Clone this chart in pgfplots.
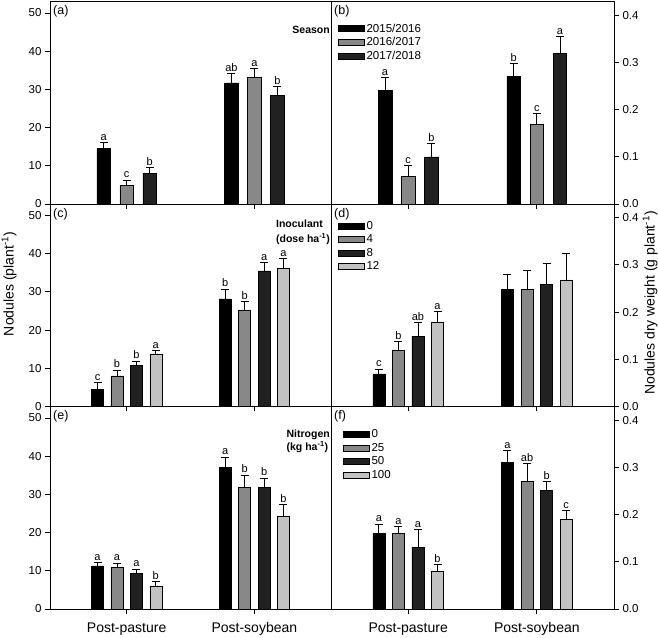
\documentclass[border=0pt]{standalone}
\usepackage{pgfplots}
\usepackage{pgfplotstable}
\pgfplotsset{compat=1.18}
\usepackage{fontspec}
\setmainfont{Liberation Sans}

\definecolor{cA}{HTML}{000000}
\definecolor{cB}{HTML}{888888}
\definecolor{cC}{HTML}{212121}
\definecolor{cD}{HTML}{C2C2C2}

% (a) nodules, season
\pgfplotstableread{
grp y1 e1 y2 e2 y3 e3 L1 L2 L3
0 14.5 1.5 4.9 1.3 8.0 1.5 a c b
1 31.7 2.4 33.1 2.4 28.4 2.3 ab a b
}\tabA
% (b) dry weight, season
\pgfplotstableread{
grp y1 e1 y2 e2 y3 e3 L1 L2 L3
0 0.240 0.028 0.059 0.022 0.100 0.028 a c b
1 0.270 0.028 0.169 0.022 0.319 0.036 b c a
}\tabB
% (c) nodules, inoculant
\pgfplotstableread{
grp y1 e1 y2 e2 y3 e3 y4 e4 L1 L2 L3 L4
0 4.4 1.9 8.0 1.5 10.7 1.2 13.8 0.9 c b b a
1 28.2 2.5 25.3 2.1 35.5 2.1 36.1 2.6 b b a a
}\tabC
% (d) dry weight, inoculant
\pgfplotstableread{
grp y1 e1 y2 e2 y3 e3 y4 e4 L1 L2 L3 L4
0 0.069 0.010 0.119 0.019 0.149 0.029 0.179 0.022 c b ab a
1 0.248 0.031 0.248 0.040 0.258 0.045 0.268 0.056 {} {} {} {}
}\tabD
% (e) nodules, nitrogen
\pgfplotstableread{
grp y1 e1 y2 e2 y3 e3 y4 e4 L1 L2 L3 L4
0 11.3 0.9 10.8 1.2 9.3 1.1 5.9 1.3 a a a b
1 37.0 2.8 31.9 3.1 31.8 2.5 24.2 3.1 a b b b
}\tabE
% (f) dry weight, nitrogen
\pgfplotstableread{
grp y1 e1 y2 e2 y3 e3 y4 e4 L1 L2 L3 L4
0 0.161 0.019 0.161 0.014 0.131 0.037 0.080 0.014 a a a b
1 0.310 0.025 0.271 0.037 0.251 0.019 0.190 0.018 a ab b c
}\tabF

\pgfplotsset{
  legbox/.style={legend image code/.code={\draw[##1] (0pt,-3pt) rectangle (26pt,3pt);}},
  panel/.style={scale only axis, height=202.5pt, anchor=south west,
    xmin=-0.6, xmax=1.6, xtick={0,1}, xticklabels={}, xtick pos=bottom,
    tick align=outside, major tick length=5pt,
    axis line style={line width=0.9pt},
    every tick/.style={black, line width=0.9pt},
    ymin=0, clip=false,
    /pgf/number format/assume math mode=true,
    yticklabel style={font=\fontsize{11.5}{13}\selectfont},
    xticklabel style={font=\fontsize{14}{16}\selectfont, yshift=-5pt},
    legbox, legend cell align=left,
    legend style={draw=none, fill=none, at={(rel axis cs:0,1)}, anchor=north west,
      font=\fontsize{11.5}{13}\selectfont, row sep=0pt}},
  leftp/.style={panel, width=281pt, ymax=53, ytick={0,10,20,30,40,50}, ytick pos=left},
  rightp/.style={panel, width=283pt, ymax=0.429, ytick={0,0.1,0.2,0.3,0.4},
    ytick pos=right, yticklabel pos=right,
    yticklabel style={/pgf/number format/.cd, fixed, fixed zerofill, precision=1}},
}

\newcommand{\ser}[4]{%
\addplot[forget plot, ybar, bar shift=#3, fill=#4, draw=black, line width=0.5pt]
  table[x=grp, y=y#2] {#1};
\addplot[forget plot, draw=none, mark=none,
  error bars/.cd, y dir=plus, y explicit,
  error bar style={line width=0.8pt, black},
  error mark options={rotate=90, black, line width=0.8pt, mark size=4pt}]
  table[x expr=\thisrow{grp}+(#3), y=y#2, y error=e#2] {#1};
\addplot[forget plot, draw=none, mark=none, nodes near coords, point meta=explicit symbolic,
  nodes near coords align={above},
  every node near coord/.append style={font=\fontsize{11}{12}\selectfont, inner sep=1pt, yshift=1pt, black}]
  table[x expr=\thisrow{grp}+(#3), y expr=\thisrow{y#2}+\thisrow{e#2}, meta=L#2] {#1};
}
\newcommand{\tag}[1]{\node[anchor=north west, inner sep=0pt, xshift=3pt, yshift=-4pt, font=\fontsize{12.5}{14}\selectfont] at (rel axis cs:0,1) {#1};}

\begin{document}
\begin{tikzpicture}
\useasboundingbox (0,0) rectangle (658pt,637pt);

% (a)
\begin{axis}[leftp, at={(50pt,433pt)}, bar width=0.105]
\ser{\tabA}{1}{-0.18}{cA}
\ser{\tabA}{2}{0}{cB}
\ser{\tabA}{3}{0.18}{cC}
\tag{(a)}
\node[anchor=north east, inner sep=0pt, xshift=-1pt, yshift=-24pt, font=\fontsize{10.5}{12}\selectfont\bfseries] at (rel axis cs:1,1) {Season};
\end{axis}

% (b)
\begin{axis}[rightp, at={(331pt,433pt)}, bar width=0.105,
  legend style={xshift=4pt, yshift=-18pt}]
\ser{\tabB}{1}{-0.18}{cA}
\ser{\tabB}{2}{0}{cB}
\ser{\tabB}{3}{0.18}{cC}
\addlegendimage{fill=cA, draw=black}
\addlegendentry{2015/2016}
\addlegendimage{fill=cB, draw=black}
\addlegendentry{2016/2017}
\addlegendimage{fill=cC, draw=black}
\addlegendentry{2017/2018}
\tag{(b)}
\end{axis}

% (c)
\begin{axis}[leftp, at={(50pt,230.5pt)}, bar width=0.094]
\ser{\tabC}{1}{-0.228}{cA}
\ser{\tabC}{2}{-0.076}{cB}
\ser{\tabC}{3}{0.076}{cC}
\ser{\tabC}{4}{0.228}{cD}
\tag{(c)}
\node[anchor=north east, align=left, inner sep=0pt, xshift=-1pt, yshift=-16pt, font=\fontsize{10.5}{15}\selectfont\bfseries] at (rel axis cs:1,1) {Inoculant\\(dose ha\textsuperscript{-1})};
\end{axis}

% (d)
\begin{axis}[rightp, at={(331pt,230.5pt)}, bar width=0.094,
  legend style={xshift=4pt, yshift=-13pt}]
\ser{\tabD}{1}{-0.228}{cA}
\ser{\tabD}{2}{-0.076}{cB}
\ser{\tabD}{3}{0.076}{cC}
\ser{\tabD}{4}{0.228}{cD}
\addlegendimage{fill=cA, draw=black}
\addlegendentry{0}
\addlegendimage{fill=cB, draw=black}
\addlegendentry{4}
\addlegendimage{fill=cC, draw=black}
\addlegendentry{8}
\addlegendimage{fill=cD, draw=black}
\addlegendentry{12}
\tag{(d)}
\end{axis}

% (e)
\begin{axis}[leftp, at={(50pt,28pt)}, bar width=0.094,
  xticklabels={Post-pasture,Post-soybean}]
\ser{\tabE}{1}{-0.228}{cA}
\ser{\tabE}{2}{-0.076}{cB}
\ser{\tabE}{3}{0.076}{cC}
\ser{\tabE}{4}{0.228}{cD}
\tag{(e)}
\node[anchor=north east, align=left, inner sep=0pt, xshift=-1pt, yshift=-23pt, font=\fontsize{10.5}{13}\selectfont\bfseries] at (rel axis cs:1,1) {Nitrogen\\(kg ha\textsuperscript{-1})};
\end{axis}

% (f)
\begin{axis}[rightp, at={(331pt,28pt)}, bar width=0.094,
  xticklabels={Post-pasture,Post-soybean},
  legend style={xshift=9pt, yshift=-19pt}]
\ser{\tabF}{1}{-0.228}{cA}
\ser{\tabF}{2}{-0.076}{cB}
\ser{\tabF}{3}{0.076}{cC}
\ser{\tabF}{4}{0.228}{cD}
\addlegendimage{fill=cA, draw=black}
\addlegendentry{0}
\addlegendimage{fill=cB, draw=black}
\addlegendentry{25}
\addlegendimage{fill=cC, draw=black}
\addlegendentry{50}
\addlegendimage{fill=cD, draw=black}
\addlegendentry{100}
\tag{(f)}
\end{axis}

\node[rotate=90, font=\fontsize{14}{16}\selectfont] at (9pt,353pt) {Nodules (plant\textsuperscript{-1})};
\node[rotate=90, font=\fontsize{14}{16}\selectfont] at (650pt,334pt) {Nodules dry weight (g plant\textsuperscript{-1})};
\end{tikzpicture}
\end{document}
